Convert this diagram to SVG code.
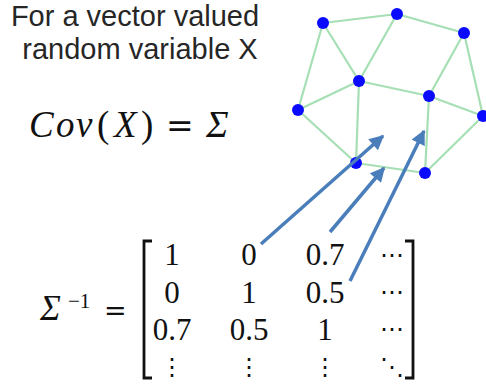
<svg xmlns="http://www.w3.org/2000/svg" width="486" height="385" viewBox="0 0 486 385">
<style>
.t{font-family:"Liberation Sans",Arial,sans-serif;font-size:29px;fill:#262626;text-anchor:middle}
.m{font-family:"Liberation Serif","DejaVu Serif",serif;fill:#111}
.mi{font-family:"Liberation Serif","DejaVu Serif",serif;font-style:italic;fill:#111}
.eq{font-family:"DejaVu Serif",serif;fill:#111}
.e{stroke:#a6dfb4;stroke-width:2.2;fill:none}
.n{fill:#0a0aff}
.a{stroke:#4a7ebb;stroke-width:3.5;fill:none;marker-end:url(#ah)}
.br{stroke:#111;stroke-width:2.8;fill:none}
.c{text-anchor:middle;font-size:31px}
.d{text-anchor:middle;font-size:24px}
</style>
<defs>
<marker id="ah" viewBox="0 0 10 10" refX="9" refY="5" markerWidth="4.4" markerHeight="4.2" orient="auto" markerUnits="strokeWidth">
<path d="M0,0 L10,5 L0,10 z" fill="#4a7ebb"/>
</marker>
</defs>
<g id="title">
<text class="t" x="135" y="26">For a vector valued</text>
<text class="t" x="140" y="59">random variable X</text>
</g>
<g id="cov" font-size="37">
<text class="mi" x="29" y="137">C</text>
<text class="mi" x="56" y="137">o</text>
<text class="mi" x="76" y="137">v</text>
<text class="m" x="97" y="137">(</text>
<text class="mi" x="114" y="137">X</text>
<text class="m" x="141" y="137">)</text>
<text class="eq" x="166" y="137" font-size="33">=</text>
<text class="mi" x="206" y="137" font-size="38">Σ</text>
</g>
<g id="edges">
<line class="e" x1="323" y1="23" x2="397" y2="14"/>
<line class="e" x1="397" y1="14" x2="464" y2="33"/>
<line class="e" x1="323" y1="23" x2="359" y2="81"/>
<line class="e" x1="397" y1="14" x2="359" y2="81"/>
<line class="e" x1="323" y1="23" x2="298" y2="110"/>
<line class="e" x1="359" y1="81" x2="298" y2="110"/>
<line class="e" x1="359" y1="81" x2="429" y2="96"/>
<line class="e" x1="464" y1="33" x2="429" y2="96"/>
<line class="e" x1="464" y1="33" x2="483" y2="116"/>
<line class="e" x1="429" y1="96" x2="483" y2="116"/>
<line class="e" x1="359" y1="81" x2="356" y2="163"/>
<line class="e" x1="298" y1="110" x2="356" y2="163"/>
<line class="e" x1="356" y1="163" x2="425" y2="173"/>
<line class="e" x1="429" y1="96" x2="425" y2="173"/>
<line class="e" x1="425" y1="173" x2="483" y2="116"/>
</g>
<g id="nodes">
<circle id="n1" class="n" cx="323" cy="23" r="6"/>
<circle id="n2" class="n" cx="397" cy="14" r="6"/>
<circle id="n3" class="n" cx="464" cy="33" r="6"/>
<circle id="n4" class="n" cx="359" cy="81" r="6"/>
<circle id="n5" class="n" cx="429" cy="96" r="6"/>
<circle id="n6" class="n" cx="298" cy="110" r="6"/>
<circle id="n7" class="n" cx="483" cy="116" r="6"/>
<circle id="n8" class="n" cx="356" cy="163" r="6"/>
<circle id="n9" class="n" cx="425" cy="173" r="6"/>
</g>
<g id="matrix">
<text class="mi" x="40" y="320" font-size="35">Σ</text>
<text class="m" x="68" y="308" font-size="21">−1</text>
<text class="eq" x="104" y="320" font-size="27">=</text>
<path class="br" d="M152,241 H144 V378 H152"/>
<path class="br" d="M405,241 H413 V378 H405"/>
<g class="m c">
<text x="172" y="265">1</text><text x="249" y="265">0</text><text x="325" y="265">0.7</text>
<text x="172" y="303">0</text><text x="249" y="303">1</text><text x="325" y="303">0.5</text>
<text x="172" y="340">0.7</text><text x="249" y="340">0.5</text><text x="325" y="340">1</text>
</g>
<g class="m d">
<text x="392" y="263">⋯</text><text x="392" y="300">⋯</text><text x="392" y="337">⋯</text>
<text x="172" y="375">⋮</text><text x="249" y="375">⋮</text><text x="325" y="375">⋮</text><text x="392" y="375">⋱</text>
</g>
</g>
<g id="connectors">
<line class="a" x1="261" y1="244" x2="383" y2="136"/>
<line class="a" x1="330" y1="232" x2="384" y2="168"/>
<line class="a" x1="350" y1="281" x2="424" y2="131"/>
</g>
</svg>
